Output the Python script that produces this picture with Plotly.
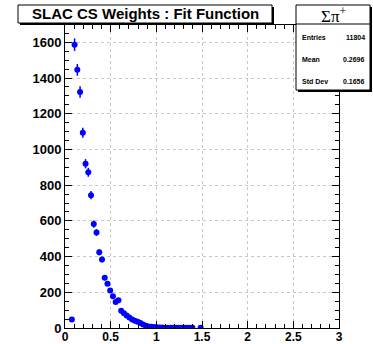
import plotly.graph_objects as go

# Histogram bin centers (bin width 0.03) and contents
bin_centers = [0.075, 0.105, 0.135, 0.165, 0.195, 0.225, 0.255, 0.285, 0.315, 0.345,
               0.375, 0.405, 0.435, 0.465, 0.495, 0.525, 0.555, 0.585, 0.615, 0.645,
               0.675, 0.705, 0.735, 0.765, 0.795, 0.825, 0.855, 0.885, 0.915, 0.945,
               0.975, 1.005, 1.035, 1.065, 1.095, 1.125, 1.155, 1.185, 1.215, 1.245,
               1.275, 1.305, 1.335, 1.365, 1.395, 1.485]
counts = [48, 1587, 1446, 1322, 1094, 920, 872, 744, 582, 535,
          424, 383, 281, 248, 210, 178, 146, 155, 96, 83,
          70, 59, 48, 41, 35, 28, 20, 13, 9, 7,
          5, 4, 3, 3, 2, 2, 2, 1, 1, 2,
          1, 1, 1, 1, 1, 1]
errors = [6, 35, 33, 32, 28, 26, 25, 23, 20, 19,
          17, 16, 14, 13, 12, 11, 10, 10, 8, 8,
          7, 6, 6, 5, 5, 4, 4, 3, 3, 2,
          2, 2, 1, 1, 1, 1, 1, 1, 1, 1,
          1, 1, 1, 1, 1, 1]

title_text = "SLAC CS Weights : Fit Function"
stats_title = "Σπ<sup>+</sup>"
stats_labels = ["Entries", "Mean", "Std Dev"]
stats_values = ["11804", "0.2696", "0.1656"]

x_ticks = [0, 0.5, 1, 1.5, 2, 2.5, 3]
x_ticktext = ["0", "0.5", "1", "1.5", "2", "2.5", "3"]
y_ticks = [0, 200, 400, 600, 800, 1000, 1200, 1400, 1600]

W, H = 373, 344
L, R, T, B = 65, 339, 25, 328  # plot area pixel box


def px(x):
    return (x - L) / (R - L)


def py(y):
    return (B - y) / (B - T)


fig = go.Figure()
fig.add_trace(go.Scatter(
    x=bin_centers, y=counts, mode="markers",
    marker=dict(color="#0000ff", size=6, symbol="circle"),
    error_y=dict(type="data", array=errors, visible=True, color="#0000ff",
                 thickness=1.5, width=0),
    showlegend=False, hoverinfo="x+y",
))

ytickfont = dict(family="Liberation Sans, Arial, sans-serif", size=13, color="black", weight="bold")
xtickfont = dict(family="Liberation Sans, Arial, sans-serif", size=12, color="black", weight="bold")

fig.update_layout(
    width=W, height=H,
    margin=dict(l=L, r=W - R, t=T, b=H - B),
    paper_bgcolor="white", plot_bgcolor="white",
    xaxis=dict(range=[0, 3], tickvals=x_ticks, ticktext=x_ticktext, automargin=False,
               ticks="inside", ticklen=7, tickwidth=1, tickcolor="black",
               showline=True, linecolor="black", linewidth=1, mirror="allticks",
               showgrid=True, gridcolor="#c8c8c8", griddash="dot", gridwidth=1,
               zeroline=False, tickfont=xtickfont, ticklabelstandoff=-2,
               minor=dict(dtick=0.1, ticks="inside", ticklen=4, tickcolor="black", showgrid=False)),
    yaxis=dict(range=[0, 1697], tickvals=y_ticks, automargin=False,
               ticks="inside", ticklen=7, tickwidth=1, tickcolor="black",
               showline=True, linecolor="black", linewidth=1, mirror="allticks",
               showgrid=True, gridcolor="#c8c8c8", griddash="dot", gridwidth=1,
               zeroline=False, tickfont=ytickfont,
               minor=dict(dtick=50, ticks="inside", ticklen=4, tickcolor="black", showgrid=False)),
)

shapes = []
annotations = []

# Title box with shadow
tx0, tx1, ty0, ty1 = 18, 272, 5, 23
shapes.append(dict(type="rect", xref="paper", yref="paper",
                   x0=px(tx0 + 2), x1=px(tx1 + 2), y0=py(ty1 + 2), y1=py(ty0 + 2),
                   fillcolor="black", line=dict(width=0), layer="above"))
shapes.append(dict(type="rect", xref="paper", yref="paper",
                   x0=px(tx0), x1=px(tx1), y0=py(ty1), y1=py(ty0),
                   fillcolor="white", line=dict(color="black", width=1), layer="above"))
annotations.append(dict(xref="paper", yref="paper", x=px((tx0 + tx1) / 2), y=py((ty0 + ty1) / 2),
                        text=title_text, showarrow=False, xanchor="center", yanchor="middle",
                        font=dict(family="Liberation Sans, Arial, sans-serif", size=15,
                                  color="black", weight="bold")))

# Stats box with shadow
sx0, sx1, sy0, sy1, sdiv = 296, 370, 5, 90, 24
shapes.append(dict(type="rect", xref="paper", yref="paper",
                   x0=px(sx0 + 2), x1=px(sx1 + 2), y0=py(sy1 + 2), y1=py(sy0 + 2),
                   fillcolor="black", line=dict(width=0), layer="above"))
shapes.append(dict(type="rect", xref="paper", yref="paper",
                   x0=px(sx0), x1=px(sx1), y0=py(sy1), y1=py(sy0),
                   fillcolor="white", line=dict(color="black", width=1), layer="above"))
shapes.append(dict(type="line", xref="paper", yref="paper",
                   x0=px(sx0), x1=px(sx1), y0=py(sdiv), y1=py(sdiv),
                   line=dict(color="black", width=1), layer="above"))
annotations.append(dict(xref="paper", yref="paper", x=px((sx0 + sx1) / 2), y=py((sy0 + sdiv) / 2 + 1),
                        text=stats_title, showarrow=False, xanchor="center", yanchor="middle",
                        font=dict(family="Liberation Serif, Times New Roman, serif", size=17, color="black")))
row_y = [38, 59, 81]
for lab, val, ry in zip(stats_labels, stats_values, row_y):
    annotations.append(dict(xref="paper", yref="paper", x=px(sx0 + 4), y=py(ry),
                            text=lab, showarrow=False, xanchor="left", yanchor="middle",
                            font=dict(family="Liberation Sans, Arial, sans-serif", size=7,
                                      color="black", weight="bold")))
    annotations.append(dict(xref="paper", yref="paper", x=px(sx1 - 3), y=py(ry),
                            text=val, showarrow=False, xanchor="right", yanchor="middle",
                            font=dict(family="Liberation Sans, Arial, sans-serif", size=7,
                                      color="black", weight="bold")))

fig.update_layout(shapes=shapes, annotations=annotations)
fig.write_html("out.html")
